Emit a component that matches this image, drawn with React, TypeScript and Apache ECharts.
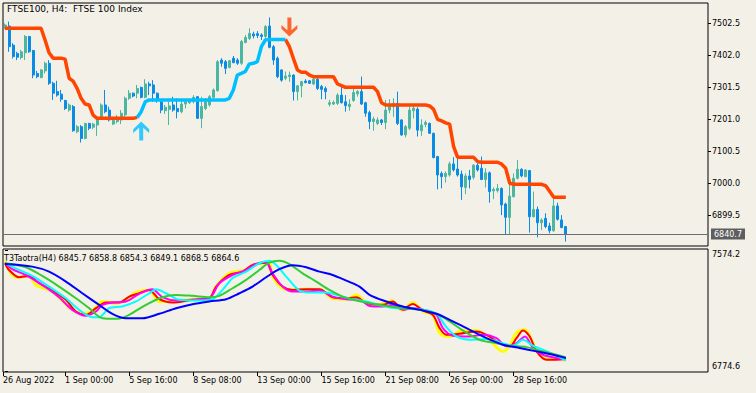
import React, { useEffect, useRef } from "react";
import * as echarts from "echarts";

const FONT = "DejaVu Sans";
const BG = "#F3F0E8";
const BULL = "#4CB6A0";
const BEAR = "#0A8CE6";
const DOWN_C = "#FF4500";
const UP_C = "#00BFFF";

const TITLE = "FTSE100, H4:  FTSE 100 Index";
const IND_NAME = "T3Taotra(H4)";
const LAST_PRICE = 6840.7;
const SLOTS = 176;

// [open, close, low, high]
const candles: number[][] = [
  [7487, 7497, 7484, 7502], [7494, 7429, 7413, 7508], [7434, 7398, 7392, 7440], [7408, 7396, 7387, 7413], [7395, 7413, 7389, 7419],
  [7410, 7461, 7387, 7466], [7461, 7413, 7410, 7463], [7417, 7340, 7330, 7419], [7345, 7335, 7330, 7353], [7332, 7356, 7330, 7358],
  [7353, 7377, 7345, 7382], [7377, 7314, 7309, 7387], [7314, 7283, 7262, 7319], [7288, 7277, 7272, 7322], [7280, 7264, 7256, 7293],
  [7260, 7235, 7230, 7262], [7230, 7246, 7225, 7251], [7241, 7165, 7162, 7246], [7162, 7178, 7157, 7183], [7178, 7141, 7128, 7183],
  [7141, 7188, 7138, 7190], [7188, 7173, 7167, 7190], [7176, 7186, 7170, 7190], [7183, 7204, 7149, 7209], [7204, 7246, 7199, 7251],
  [7246, 7225, 7220, 7293], [7230, 7199, 7194, 7241], [7186, 7197, 7183, 7201], [7194, 7204, 7188, 7215], [7199, 7220, 7186, 7230],
  [7215, 7267, 7209, 7272], [7267, 7283, 7262, 7293], [7283, 7274, 7270, 7285], [7283, 7298, 7267, 7309], [7301, 7270, 7267, 7304],
  [7270, 7312, 7267, 7327], [7312, 7306, 7277, 7319], [7309, 7283, 7256, 7324], [7283, 7262, 7253, 7285], [7256, 7230, 7220, 7262],
  [7228, 7239, 7218, 7246], [7232, 7243, 7183, 7256], [7246, 7230, 7225, 7272], [7235, 7225, 7204, 7267], [7225, 7249, 7220, 7262],
  [7249, 7256, 7235, 7262], [7253, 7260, 7249, 7264], [7256, 7270, 7251, 7277], [7272, 7204, 7202, 7274], [7204, 7241, 7173, 7272],
  [7235, 7256, 7230, 7267], [7246, 7272, 7241, 7277], [7270, 7293, 7267, 7298], [7291, 7382, 7288, 7387], [7387, 7377, 7366, 7393],
  [7382, 7361, 7343, 7387], [7364, 7385, 7361, 7387], [7393, 7379, 7377, 7400], [7387, 7377, 7372, 7393], [7377, 7445, 7372, 7450],
  [7442, 7458, 7440, 7466], [7455, 7471, 7450, 7487], [7469, 7463, 7455, 7476], [7470, 7464, 7456, 7478], [7466, 7461, 7450, 7471],
  [7461, 7492, 7455, 7497], [7494, 7427, 7424, 7521], [7429, 7387, 7372, 7434], [7393, 7335, 7330, 7398], [7356, 7324, 7319, 7358],
  [7330, 7337, 7324, 7351], [7335, 7340, 7319, 7351], [7340, 7288, 7260, 7342], [7288, 7306, 7260, 7309], [7306, 7319, 7270, 7322],
  [7321, 7316, 7314, 7327], [7322, 7314, 7312, 7324], [7312, 7327, 7309, 7337], [7327, 7298, 7293, 7335], [7304, 7295, 7264, 7309],
  [7298, 7288, 7264, 7304], [7248, 7253, 7241, 7262], [7249, 7254, 7246, 7260], [7251, 7277, 7246, 7283], [7277, 7253, 7251, 7304],
  [7256, 7244, 7225, 7277], [7241, 7248, 7228, 7264], [7260, 7285, 7256, 7298], [7281, 7288, 7272, 7293], [7288, 7249, 7246, 7335],
  [7253, 7220, 7209, 7256], [7222, 7194, 7170, 7228], [7194, 7202, 7165, 7209], [7188, 7199, 7183, 7207], [7199, 7191, 7183, 7202],
  [7191, 7230, 7170, 7262], [7230, 7241, 7220, 7264], [7241, 7251, 7209, 7267], [7251, 7188, 7183, 7288], [7199, 7152, 7149, 7201],
  [7152, 7178, 7144, 7183], [7173, 7230, 7167, 7241], [7228, 7236, 7204, 7251], [7233, 7167, 7147, 7239], [7165, 7183, 7149, 7201],
  [7185, 7191, 7176, 7197], [7188, 7157, 7155, 7191], [7157, 7081, 7078, 7159], [7084, 7026, 6981, 7086], [7031, 7021, 6984, 7037],
  [7021, 7031, 7002, 7037], [7026, 7061, 7021, 7068], [7061, 7042, 7037, 7082], [7045, 7026, 7021, 7078], [7029, 6989, 6948, 7040],
  [6987, 7023, 6966, 7031], [7023, 7012, 6984, 7042], [7019, 7057, 7012, 7060], [7057, 7042, 7037, 7063], [7047, 7012, 7010, 7084],
  [7012, 7033, 6987, 7047], [7033, 6974, 6939, 7037], [6976, 6981, 6950, 6987], [6977, 6984, 6971, 6998], [6984, 6932, 6900, 6987],
  [6935, 6893, 6838, 6939], [6893, 6960, 6838, 7005], [6958, 7016, 6956, 7031], [7016, 7044, 7012, 7073], [7044, 7023, 7019, 7047],
  [7021, 7042, 7019, 7044], [7040, 6895, 6845, 7042], [6895, 6918, 6893, 6974], [6918, 6876, 6830, 6927], [6876, 6885, 6853, 6890],
  [6890, 6864, 6859, 6906], [6866, 6851, 6843, 6876], [6851, 6929, 6848, 6953], [6929, 6887, 6883, 6939], [6885, 6861, 6859, 6900],
  [6864, 6840.7, 6817, 6866],
];

// trailing stop line, one value per bar
const trail: number[] = [
  7487, 7487, 7487, 7487, 7487, 7487, 7487, 7487, 7487, 7487,
  7450, 7410, 7393, 7393, 7393, 7390, 7330, 7321, 7298, 7267,
  7249, 7246, 7214, 7204, 7204, 7204, 7204, 7204, 7204, 7204,
  7204, 7204, 7204, 7207, 7225, 7256, 7262, 7262, 7262, 7262,
  7262, 7262, 7262, 7262, 7262, 7262, 7262, 7262, 7262, 7262,
  7262, 7262, 7262, 7262, 7262, 7262, 7267, 7293, 7340, 7345,
  7351, 7375, 7377, 7382, 7429, 7450, 7452, 7452, 7452, 7452,
  7452, 7429, 7392, 7356, 7349, 7349, 7340, 7335, 7335, 7335,
  7335, 7335, 7335, 7312, 7307, 7301.5, 7301.5, 7301.5, 7301.5, 7301.5,
  7301.5, 7301.5, 7301.5, 7288, 7253, 7246, 7246, 7246, 7246, 7246,
  7246, 7246, 7246, 7246, 7246, 7246, 7243, 7232, 7201, 7196,
  7190, 7186, 7115, 7081.5, 7081.5, 7081.5, 7081.5, 7081.5, 7068, 7066,
  7066, 7066, 7066, 7066, 7060, 7047, 7000, 6997, 6997, 6997,
  6997, 6997, 6997, 6997, 6997, 6992, 6974, 6956, 6956, 6956,
  6956,
];
const upRange = [33, 70];

const arrowBars = [34, 71];
const arrowPrices = [7164, 7491];
const arrowDirs = ["up", "down"];

const priceTicks = [7502.5, 7402.0, 7301.5, 7201.0, 7100.5, 7000.0, 6899.5];
const indTicks = [7574.2, 6774.6];
const timeTickBars = [-0.5, 15, 31, 47, 63, 79, 95, 111, 127];
const timeTickLabels = [
  "26 Aug 2022", "1 Sep 00:00", "5 Sep 16:00", "8 Sep 08:00", "13 Sep 00:00",
  "15 Sep 16:00", "21 Sep 08:00", "26 Sep 00:00", "28 Sep 16:00",
];

// indicator lines: [bar position, value]
const yellowPts = [[0,7504],[1.8,7410],[3.5,7395],[6,7404],[7.7,7345],[11.8,7301],[16.8,7181],[19.3,7159],[21.8,7170],[24.3,7236],[27.7,7225],[30.2,7247],[32.7,7295],[36,7312],[38.5,7236],[41.8,7236],[46.8,7251],[51,7251],[52.7,7334],[56,7421],[60.2,7443],[63.5,7487],[66,7487],[66.8,7399],[69.3,7323],[71.8,7312],[75.2,7316],[78.5,7316],[81.8,7257],[85.2,7251],[87.7,7279],[91,7214],[94.3,7220],[96.4,7242],[99.3,7177],[101.8,7229],[104.3,7170],[106.8,7148],[108.5,7028],[111,7006],[113.5,7039],[117.7,7046],[120.2,7006],[124.3,6908],[126,6945],[127.7,7032],[129.8,7050],[131.8,6962],[133.5,6886],[136,6858],[138.5,6864],[140,6845.7]];
const redPts = [[0,7487],[1,7443],[3.5,7395],[6,7404],[8.5,7356],[11.8,7308],[15.2,7247],[17.7,7170],[20.2,7148],[22.7,7192],[25.2,7229],[28.5,7229],[31,7268],[33.5,7290],[36,7312],[38.5,7251],[41.8,7229],[46.8,7247],[51,7257],[52.7,7334],[56,7410],[59.3,7432],[61.8,7476],[65.2,7491],[66.8,7410],[69.3,7334],[71.8,7312],[75.2,7316],[78.5,7316],[81.8,7264],[85.2,7257],[87.7,7264],[90.2,7225],[94.3,7214],[96.8,7236],[99.3,7185],[101.8,7220],[104.3,7177],[106.8,7148],[108.5,7061],[110.2,7017],[113.5,7024],[117.7,7039],[120.2,7017],[123.5,6962],[126,6941],[127.7,6995],[129.3,7046],[131,7006],[132.7,6908],[135.2,6853],[137.7,6853],[140,6858.8]];
const magentaPts = [[0,7491],[1.8,7448],[5.2,7410],[9.3,7345],[13.5,7264],[16.8,7181],[20.2,7142],[22.7,7170],[24.3,7214],[26.8,7229],[30.2,7236],[33.5,7286],[36.8,7316],[39.3,7264],[42.7,7242],[46.8,7247],[51,7257],[53.5,7356],[56.8,7410],[60.2,7443],[62.7,7482],[65.2,7496],[66.8,7421],[69.3,7334],[71.8,7301],[75.2,7301],[78.5,7308],[81.8,7268],[85.2,7251],[88.5,7247],[91,7207],[94.3,7203],[96.8,7214],[99.3,7181],[101.8,7192],[105.2,7177],[107.7,7148],[109.3,7061],[111.8,7011],[116,7006],[119.3,7017],[122.7,6995],[125.2,6941],[127.7,6962],[129.8,7006],[131.8,6930],[134.3,6886],[137.7,6864],[140,6854.3]];
const cyanPts = [[0,7487],[2.7,7454],[6.8,7404],[11,7334],[15.2,7257],[18.5,7181],[21.8,7133],[23.5,7133],[26,7192],[29.3,7203],[32.7,7236],[36,7290],[37.7,7316],[40.2,7290],[43.5,7247],[47.7,7242],[51.8,7251],[54.3,7312],[56.8,7389],[60.2,7432],[63.5,7487],[66,7504],[67.7,7476],[70.2,7399],[73.5,7308],[76.8,7295],[80.2,7295],[83.5,7273],[86.8,7251],[90.2,7236],[94.3,7207],[97.7,7192],[101,7192],[104.3,7181],[107.7,7155],[110.2,7067],[112.7,7006],[116,6984],[120.2,6989],[124.3,6962],[126.8,6945],[129.3,6984],[131.8,6945],[134.3,6919],[137.7,6879],[140,6849.1]];
const greenPts = [[0,7487],[5.2,7461],[9.3,7404],[13.5,7334],[17.7,7257],[21,7192],[24.3,7126],[28.1,7122],[31,7148],[35.2,7214],[39.3,7264],[42.7,7279],[46.8,7273],[51,7264],[53.5,7273],[56.8,7323],[60.2,7378],[63.5,7443],[66,7491],[68.5,7504],[71,7482],[74.3,7421],[77.7,7367],[81,7312],[84.3,7268],[87.7,7242],[91,7225],[95.2,7207],[99.3,7192],[103.5,7181],[107.7,7155],[111,7105],[114.3,7046],[118.5,6984],[122.7,6962],[126,6945],[130.2,6936],[134.3,6908],[137.7,6886],[140,6868.5]];
const bluePts = [[0,7482],[6.8,7465],[11,7432],[15.2,7367],[19.3,7290],[23.5,7214],[26.8,7155],[30.2,7126],[34.3,7126],[38.5,7155],[42.7,7192],[46.8,7218],[51,7236],[55.2,7251],[58.5,7290],[61.8,7334],[65.2,7395],[68.5,7448],[71.8,7474],[75.2,7461],[78.5,7432],[81.8,7410],[85.2,7373],[88.5,7334],[91,7280],[95.2,7236],[99.3,7203],[103.5,7181],[107.7,7155],[111.8,7105],[116,7050],[120.2,6995],[124.3,6952],[128.5,6930],[132.7,6908],[136.8,6886],[140,6864.6]];

const indLines = [
  { name: "yellow", pts: yellowPts, color: "#FFFF00", width: 3 },
  { name: "red", pts: redPts, color: "#FF0000", width: 2 },
  { name: "magenta", pts: magentaPts, color: "#FF00FF", width: 2 },
  { name: "cyan", pts: cyanPts, color: "#00FFFF", width: 2 },
  { name: "green", pts: greenPts, color: "#32CD32", width: 2 },
  { name: "blue", pts: bluePts, color: "#0000FF", width: 2 },
];

const UP_ARROW = "path://M8,0 L16,8 L16,12 L10,6.5 L10,20 L6,20 L6,6.5 L0,12 L0,8 Z";
const DOWN_ARROW = "path://M8,20 L16,12 L16,8 L10,13.5 L10,0 L6,0 L6,13.5 L0,8 L0,12 Z";

export default function App() {
  const ref = useRef<HTMLDivElement>(null);
  useEffect(() => {
    if (!ref.current) return;
    const chart = echarts.init(ref.current, undefined, { renderer: "svg" });
    const cats = Array.from({ length: SLOTS }, (_, i) => String(i));
    const orangeData = trail.map((v, i) => (i <= upRange[0] || i >= upRange[1] ? v : "-"));
    const blueData = trail.map((v, i) => (i >= upRange[0] && i <= upRange[1] ? v : "-"));
    const indLabel =
      IND_NAME + " " + indLines.map((l) => l.pts[l.pts.length - 1][1].toFixed(1)).join(" ");
    const txt = { fontFamily: FONT, fontSize: 8, color: "#000" };

    chart.setOption({
      animation: false,
      backgroundColor: BG,
      grid: [
        { left: 3, top: 3, width: 705, height: 243, show: true, borderColor: "#000", borderWidth: 1 },
        { left: 3, top: 249, width: 705, height: 123, show: true, borderColor: "#000", borderWidth: 1 },
      ],
      xAxis: [
        {
          type: "category", gridIndex: 0, data: cats, boundaryGap: true,
          axisLine: { show: false }, axisTick: { show: false }, axisLabel: { show: false }, splitLine: { show: false },
        },
        {
          type: "value", gridIndex: 1, min: -0.5, max: SLOTS - 0.5,
          axisLine: { show: false }, splitLine: { show: false },
          axisTick: { show: true, customValues: timeTickBars, length: 4, lineStyle: { color: "#000" } },
          axisLabel: {
            ...txt, customValues: timeTickBars, align: "left", margin: 4,
            formatter: (v: number) => {
              const k = timeTickBars.findIndex((b) => Math.abs(b - v) < 1e-6);
              return k >= 0 ? timeTickLabels[k] : "";
            },
          },
        },
      ],
      yAxis: [
        {
          type: "value", gridIndex: 0, position: "right", min: 6803.1, max: 7566.25,
          axisLine: { show: false }, splitLine: { show: false },
          axisTick: { show: true, customValues: priceTicks, length: 3, lineStyle: { color: "#000" } },
          axisLabel: { ...txt, customValues: priceTicks, margin: 4, formatter: (v: number) => v.toFixed(1) },
        },
        {
          type: "value", gridIndex: 1, position: "right", min: 6772.6, max: 7580.8,
          axisLine: { show: false }, splitLine: { show: false },
          axisTick: { show: true, customValues: indTicks, length: 3, lineStyle: { color: "#000" } },
          axisLabel: {
            ...txt, customValues: indTicks, margin: 4,
            formatter: (v: number) => (v > 7000 ? `{a|${v.toFixed(1)}}` : `{b|${v.toFixed(1)}}`),
            rich: {
              a: { ...txt, padding: [9, 0, 0, 0] },
              b: { ...txt, padding: [0, 0, 10, 0] },
            },
          },
        },
      ],
      series: [
        {
          type: "candlestick", xAxisIndex: 0, yAxisIndex: 0, data: candles, barWidth: 2.5,
          itemStyle: { color: BULL, color0: BEAR, borderColor: BULL, borderColor0: BEAR, borderWidth: 1 },
          markLine: {
            silent: true, symbol: "none",
            data: [{ yAxis: LAST_PRICE }],
            lineStyle: { color: "#6E6E6E", width: 1, type: "solid" },
            label: {
              position: "end", distance: 3, formatter: LAST_PRICE.toFixed(1),
              backgroundColor: "#5E5E5E", color: "#FFFFFF", fontFamily: FONT, fontSize: 8,
              padding: [2, 3, 1, 3],
            },
          },
        },
        {
          type: "line", xAxisIndex: 0, yAxisIndex: 0, data: orangeData, showSymbol: false,
          lineStyle: { color: DOWN_C, width: 3.5 }, z: 3,
        },
        {
          type: "line", xAxisIndex: 0, yAxisIndex: 0, data: blueData, showSymbol: false,
          lineStyle: { color: UP_C, width: 3.5 }, z: 3,
        },
        {
          type: "scatter", xAxisIndex: 0, yAxisIndex: 0, z: 4,
          data: arrowBars.map((b, k) => ({
            value: [b, arrowPrices[k]],
            symbol: arrowDirs[k] === "up" ? UP_ARROW : DOWN_ARROW,
            symbolSize: [16, 19],
            itemStyle: { color: arrowDirs[k] === "up" ? UP_C : DOWN_C },
          })),
        },
        ...indLines.map((l) => ({
          type: "line", name: l.name, xAxisIndex: 1, yAxisIndex: 1, data: l.pts,
          showSymbol: false, smooth: 0.3, lineStyle: { color: l.color, width: l.width },
        })),
      ],
      graphic: [
        { type: "text", x: 7, y: 9, style: { text: TITLE, fontFamily: FONT, fontSize: 9, fill: "#000", verticalAlign: "middle" } },
        { type: "text", x: 4, y: 258.5, style: { text: indLabel, fontFamily: FONT, fontSize: 8, fill: "#000", verticalAlign: "middle" } },
      ],
    });
    return () => chart.dispose();
  }, []);
  return (
    <div
      ref={ref}
      style={{ position: "fixed", left: 0, top: 0, width: 756, height: 393, background: BG }}
    />
  );
}
